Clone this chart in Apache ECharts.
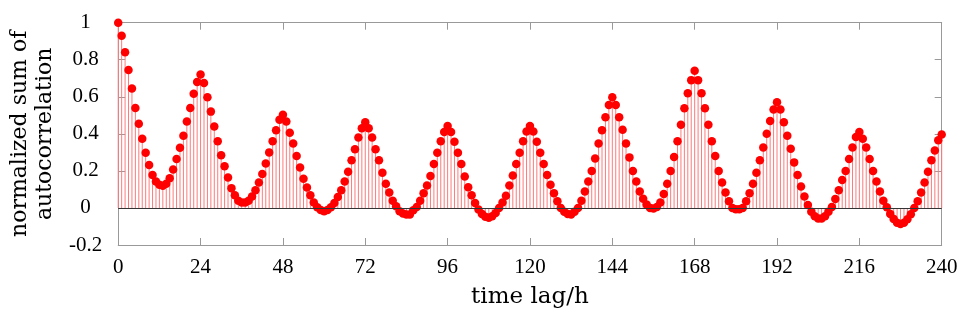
<!DOCTYPE html>
<html>
<head>
<meta charset="utf-8">
<script src="https://cdn.jsdelivr.net/npm/echarts@6/dist/echarts.min.js"></script>
<style>
  html, body { margin: 0; padding: 0; background: #fff; }
  #chart { width: 965px; height: 314px; }
</style>
</head>
<body>
<div id="chart"></div>
<script>
// normalized sum of autocorrelation, one value per hour lag (0..240)
const acf = [
  1.0, 0.93, 0.84, 0.745, 0.645, 0.54, 0.455, 0.374, 0.298, 0.232, 0.178, 0.143,
  0.125, 0.12, 0.13, 0.16, 0.208, 0.264, 0.325, 0.39, 0.467, 0.54, 0.617, 0.68,
  0.72, 0.675, 0.597, 0.52, 0.44, 0.36, 0.285, 0.225, 0.164, 0.107, 0.068, 0.039,
  0.03, 0.03, 0.039, 0.062, 0.095, 0.137, 0.183, 0.24, 0.30, 0.36, 0.42, 0.476,
  0.503, 0.467, 0.406, 0.348, 0.28, 0.218, 0.157, 0.11, 0.068, 0.03, 0.004, -0.011,
  -0.018, -0.011, 0.004, 0.027, 0.059, 0.096, 0.143, 0.196, 0.257, 0.317, 0.38, 0.43,
  0.463, 0.43, 0.38, 0.317, 0.257, 0.19, 0.13, 0.084, 0.039, 0.009, -0.018, -0.03,
  -0.036, -0.035, -0.013, 0.005, 0.039, 0.079, 0.121, 0.173, 0.237, 0.298, 0.36, 0.41,
  0.442, 0.41, 0.357, 0.298, 0.237, 0.17, 0.112, 0.068, 0.027, -0.009, -0.032, -0.048,
  -0.053, -0.045, -0.027, 0.0, 0.03, 0.066, 0.121, 0.175, 0.237, 0.298, 0.36, 0.413,
  0.442, 0.413, 0.357, 0.298, 0.237, 0.178, 0.125, 0.08, 0.036, 0.0, -0.021, -0.032,
  -0.036, -0.021, 0.0, 0.039, 0.089, 0.143, 0.2, 0.267, 0.348, 0.419, 0.49, 0.556,
  0.597, 0.556, 0.49, 0.422, 0.348, 0.273, 0.2, 0.143, 0.089, 0.05, 0.018, 0.0,
  -0.003, 0.005, 0.03, 0.075, 0.13, 0.2, 0.275, 0.36, 0.449, 0.538, 0.619, 0.69,
  0.74, 0.69, 0.619, 0.538, 0.449, 0.36, 0.28, 0.2, 0.137, 0.084, 0.036, 0.0,
  -0.007, -0.007, 0.0, 0.036, 0.08, 0.13, 0.19, 0.257, 0.326, 0.401, 0.469, 0.531,
  0.57, 0.531, 0.463, 0.39, 0.32, 0.246, 0.178, 0.116, 0.062, 0.016, -0.02, -0.045,
  -0.057, -0.057, -0.045, -0.021, 0.005, 0.048, 0.095, 0.151, 0.2, 0.264, 0.326, 0.383,
  0.41, 0.374, 0.326, 0.264, 0.2, 0.143, 0.089, 0.039, 0.004, -0.032, -0.059, -0.08,
  -0.086, -0.08, -0.061, -0.034, 0.0, 0.036, 0.084, 0.137, 0.196, 0.258, 0.31, 0.365,
  0.396
];
const xTicks = [0, 24, 48, 72, 96, 120, 144, 168, 192, 216, 240];
const yTicks = [-0.2, 0, 0.2, 0.4, 0.6, 0.8, 1];

const points = acf.map((v, i) => [i, v]);
const textFont = 'DejaVu Serif';
const tickFont = 'Liberation Serif';
const boxColor = '#999';

const tickStyle = { show: true, inside: true, length: 7, lineStyle: { color: boxColor } };
const lineStyle = { show: true, onZero: false, lineStyle: { color: boxColor, width: 1 } };

const chart = echarts.init(document.getElementById('chart'), null, { renderer: 'canvas' });
chart.setOption({
  animation: false,
  grid: { left: 115.7, right: 23.3, top: 22.7, bottom: 66.7, containLabel: false },
  xAxis: [
    {
      type: 'value', position: 'bottom',
      min: xTicks[0], max: xTicks[xTicks.length - 1], interval: 24,
      name: 'time lag/h', nameLocation: 'middle', nameGap: 41,
      nameTextStyle: { fontFamily: textFont, fontSize: 23, color: '#000' },
      axisLine: lineStyle, axisTick: tickStyle, splitLine: { show: false },
      axisLabel: { fontFamily: tickFont, fontSize: 21, color: '#000', margin: 12 }
    },
    {
      type: 'value', position: 'top',
      min: xTicks[0], max: xTicks[xTicks.length - 1], interval: 24,
      axisLine: lineStyle, axisTick: tickStyle, splitLine: { show: false },
      axisLabel: { show: false }
    }
  ],
  yAxis: [
    {
      type: 'value', position: 'left',
      min: yTicks[0], max: yTicks[yTicks.length - 1], interval: 0.2,
      name: 'normalized sum of\nautocorrelation', nameLocation: 'middle', nameGap: 56,
      nameRotate: 90,
      nameTextStyle: { fontFamily: textFont, fontSize: 22, color: '#000', lineHeight: 25 },
      axisLine: lineStyle, axisTick: tickStyle, splitLine: { show: false },
      axisLabel: {
        fontFamily: tickFont, fontSize: 21, color: '#000', margin: 32.7, align: 'center',
        formatter: v => String(Math.round(v * 10) / 10)
      }
    },
    {
      type: 'value', position: 'right',
      min: yTicks[0], max: yTicks[yTicks.length - 1], interval: 0.2,
      axisLine: lineStyle, axisTick: tickStyle, splitLine: { show: false },
      axisLabel: { show: false }
    }
  ],
  series: [
    {
      name: 'stem',
      type: 'bar',
      barWidth: 1,
      data: points,
      itemStyle: { color: '#ff7a7a' },
      silent: true,
      markLine: {
        silent: true,
        symbol: 'none',
        label: { show: false },
        lineStyle: { color: '#333', width: 1, type: 'solid' },
        data: [{ yAxis: 0 }]
      },
      z: 2
    },
    {
      name: 'acf',
      type: 'scatter',
      data: points,
      symbol: 'circle',
      symbolSize: 8.5,
      itemStyle: { color: '#ff0000', opacity: 1 },
      z: 3
    }
  ]
});
</script>
</body>
</html>
